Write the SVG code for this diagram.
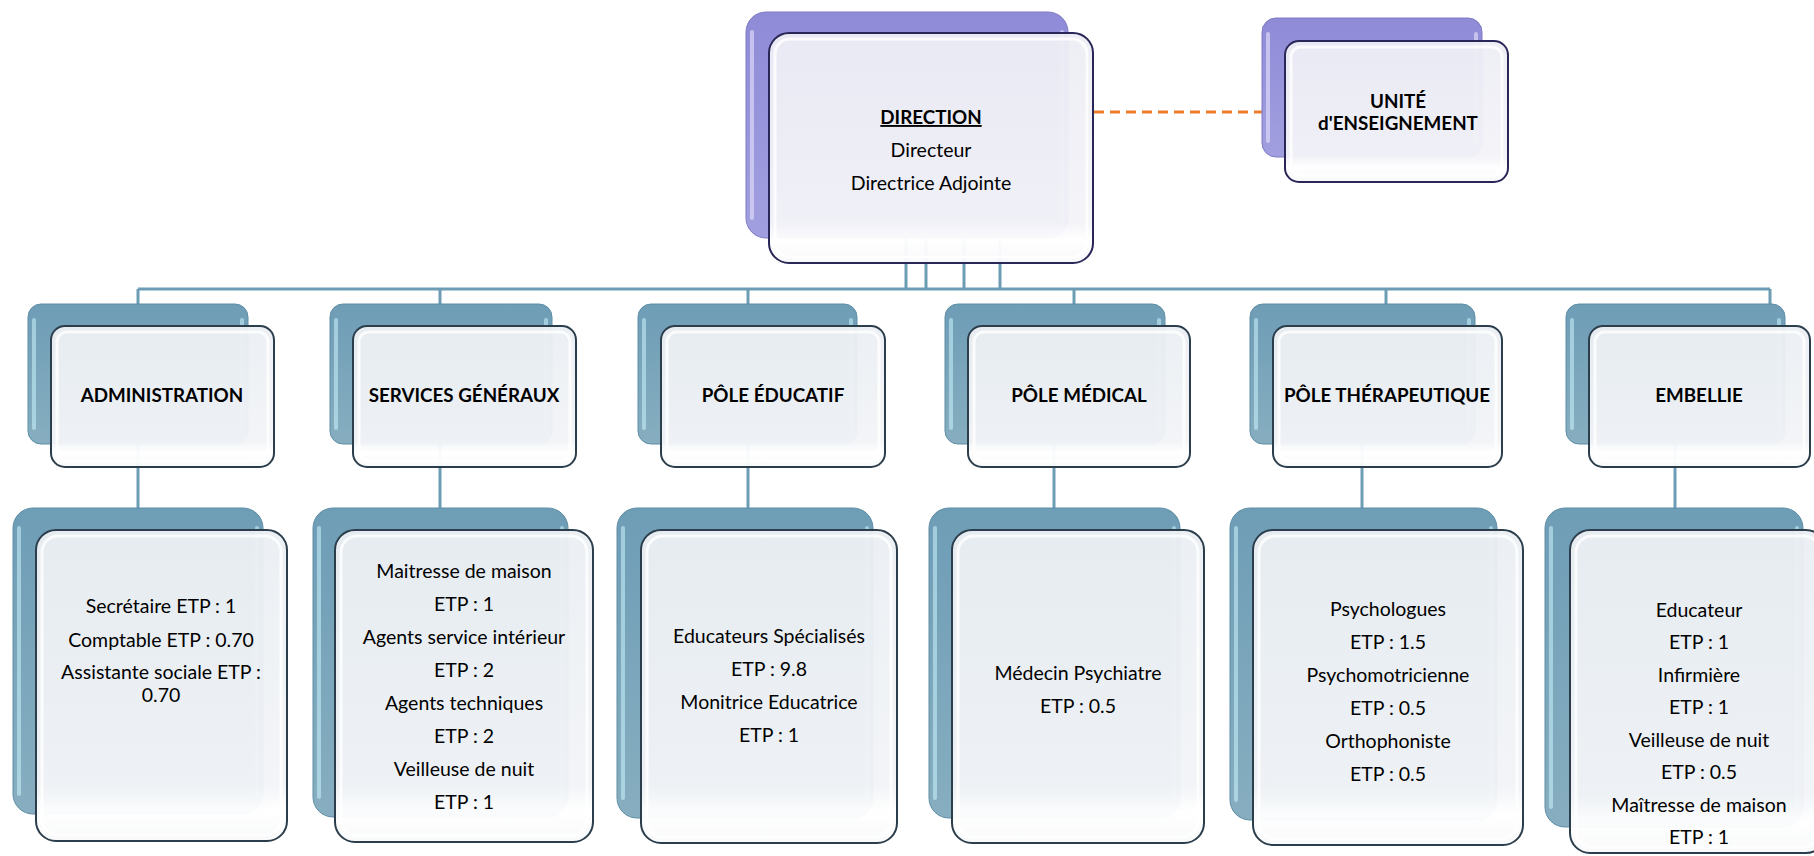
<svg xmlns="http://www.w3.org/2000/svg" width="1814" height="856" viewBox="0 0 1814 856">
<defs>
<linearGradient id="gb" x1="0" y1="0" x2="0" y2="1"><stop offset="0" stop-color="#6e9db6"/><stop offset="1" stop-color="#87aec0"/></linearGradient>
<linearGradient id="gp" x1="0" y1="0" x2="0" y2="1"><stop offset="0" stop-color="#8f8bd7"/><stop offset="1" stop-color="#a29fe0"/></linearGradient>
<linearGradient id="gf" x1="0" y1="0" x2="0" y2="1"><stop offset="0" stop-color="#ebeff3"/><stop offset="0.82" stop-color="#f2f4f7"/><stop offset="0.9" stop-color="#ffffff"/><stop offset="1" stop-color="#f8f9fa"/></linearGradient>
<linearGradient id="gfp" x1="0" y1="0" x2="0" y2="1"><stop offset="0" stop-color="#ededf5"/><stop offset="0.82" stop-color="#f3f3f8"/><stop offset="0.9" stop-color="#ffffff"/><stop offset="1" stop-color="#f8f8fb"/></linearGradient>
<style>
.bb{fill:url(#gb);stroke:#5f8ea5;stroke-width:1}
.bp{fill:url(#gp);stroke:#7f7bc4;stroke-width:1}
.hb{fill:none;stroke:#c4ecf6;stroke-width:4;stroke-opacity:.6;stroke-linecap:round}
.hp{fill:none;stroke:#dcdaf8;stroke-width:4;stroke-opacity:.7;stroke-linecap:round}
.fb{fill:url(#gf);fill-opacity:.96;stroke:#2c3e4c;stroke-width:2}
.fp{fill:url(#gfp);fill-opacity:.96;stroke:#2a2758;stroke-width:2}
.hi{fill:none;stroke:#ffffff;stroke-width:3;stroke-opacity:.8}
.t{font-family:Lato,"Liberation Sans",sans-serif;font-size:19.5px;fill:#000;text-anchor:middle}
.tb{font-weight:bold;font-size:18.8px}
.c{stroke:#6c9db5;stroke-width:3;fill:none}
.d{stroke:#ed7d31;stroke-width:3;fill:none;stroke-dasharray:10 6}
</style>
</defs>
<rect width="1814" height="856" fill="#ffffff"/>
<g id="connectors">
<path class="c" d="M138 289H1770"/>
<path class="c" d="M906 237V289M926 237V289M964 237V289M1000 237V289"/>
<path class="c" d="M138 289V304M440 289V304M748 289V304M1074 289V304M1386 289V304M1770 289V304"/>
<path class="c" d="M138 444V508M440 444V508M748 444V508M1054 444V508M1362 444V508M1675 444V508"/>
<path class="d" d="M1094 112H1262"/>
</g>
<g id="direction">
<rect class="bp" x="746" y="12" width="322" height="226" rx="20"/>
<path class="hp" d="M752 32V218M1062 32V218"/>
<rect class="fp" x="769" y="33" width="324" height="230" rx="20"/>
<rect class="hi" x="775" y="39" width="312" height="218" rx="15"/>
<text class="t tb" x="931" y="124" text-decoration="underline">DIRECTION</text>
<text class="t" x="931" y="157">Directeur</text>
<text class="t" x="931" y="190">Directrice Adjointe</text>
</g>
<g id="unite">
<rect class="bp" x="1262" y="18" width="220" height="139" rx="14"/>
<path class="hp" d="M1268 34V141M1476 34V141"/>
<rect class="fp" x="1285" y="41" width="223" height="141" rx="14"/>
<rect class="hi" x="1291" y="47" width="211" height="129" rx="10"/>
<text class="t tb" x="1398" y="108">UNITÉ</text>
<text class="t tb" x="1398" y="130">d'ENSEIGNEMENT</text>
</g>
<g id="administration">
<rect class="bb" x="28" y="304" width="220" height="140" rx="13"/>
<path class="hb" d="M34 320V428M242 320V428"/>
<rect class="fb" x="51" y="326" width="223" height="141" rx="14"/>
<rect class="hi" x="57" y="332" width="211" height="129" rx="10"/>
<text class="t tb" x="162" y="402">ADMINISTRATION</text>
</g>
<g id="services">
<rect class="bb" x="330" y="304" width="222" height="140" rx="13"/>
<path class="hb" d="M336 320V428M546 320V428"/>
<rect class="fb" x="353" y="326" width="223" height="141" rx="14"/>
<rect class="hi" x="359" y="332" width="211" height="129" rx="10"/>
<text class="t tb" x="464" y="402">SERVICES GÉNÉRAUX</text>
</g>
<g id="educatif">
<rect class="bb" x="638" y="304" width="219" height="140" rx="13"/>
<path class="hb" d="M644 320V428M851 320V428"/>
<rect class="fb" x="661" y="326" width="224" height="141" rx="14"/>
<rect class="hi" x="667" y="332" width="212" height="129" rx="10"/>
<text class="t tb" x="773" y="402">PÔLE ÉDUCATIF</text>
</g>
<g id="medical">
<rect class="bb" x="945" y="304" width="220" height="140" rx="13"/>
<path class="hb" d="M951 320V428M1159 320V428"/>
<rect class="fb" x="968" y="326" width="222" height="141" rx="14"/>
<rect class="hi" x="974" y="332" width="210" height="129" rx="10"/>
<text class="t tb" x="1079" y="402">PÔLE MÉDICAL</text>
</g>
<g id="therapeutique">
<rect class="bb" x="1250" y="304" width="225" height="140" rx="13"/>
<path class="hb" d="M1256 320V428M1469 320V428"/>
<rect class="fb" x="1273" y="326" width="229" height="141" rx="14"/>
<rect class="hi" x="1279" y="332" width="217" height="129" rx="10"/>
<text class="t tb" x="1387" y="402">PÔLE THÉRAPEUTIQUE</text>
</g>
<g id="embellie">
<rect class="bb" x="1566" y="304" width="219" height="140" rx="13"/>
<path class="hb" d="M1572 320V428M1779 320V428"/>
<rect class="fb" x="1589" y="326" width="221" height="141" rx="14"/>
<rect class="hi" x="1595" y="332" width="209" height="129" rx="10"/>
<text class="t tb" x="1699" y="402">EMBELLIE</text>
</g>
<g id="administration-staff">
<rect class="bb" x="13" y="508" width="250" height="306" rx="20"/>
<path class="hb" d="M19 528V794M257 528V794"/>
<rect class="fb" x="36" y="530" width="251" height="311" rx="20"/>
<rect class="hi" x="42" y="536" width="239" height="299" rx="16"/>
<text class="t" x="161" y="613">Secrétaire ETP : 1</text>
<text class="t" x="161" y="647">Comptable ETP : 0.70</text>
<text class="t" x="161" y="679">Assistante sociale ETP :</text>
<text class="t" x="161" y="702">0.70</text>
</g>
<g id="services-staff">
<rect class="bb" x="313" y="508" width="255" height="309" rx="20"/>
<path class="hb" d="M319 528V797M562 528V797"/>
<rect class="fb" x="335" y="530" width="258" height="312" rx="20"/>
<rect class="hi" x="341" y="536" width="246" height="300" rx="16"/>
<text class="t" x="464" y="578">Maitresse de maison</text>
<text class="t" x="464" y="611">ETP : 1</text>
<text class="t" x="464" y="644">Agents service intérieur</text>
<text class="t" x="464" y="677">ETP : 2</text>
<text class="t" x="464" y="710">Agents techniques</text>
<text class="t" x="464" y="743">ETP : 2</text>
<text class="t" x="464" y="776">Veilleuse de nuit</text>
<text class="t" x="464" y="809">ETP : 1</text>
</g>
<g id="educatif-staff">
<rect class="bb" x="617" y="508" width="256" height="310" rx="20"/>
<path class="hb" d="M623 528V798M867 528V798"/>
<rect class="fb" x="641" y="530" width="256" height="313" rx="20"/>
<rect class="hi" x="647" y="536" width="244" height="301" rx="16"/>
<text class="t" x="769" y="643">Educateurs Spécialisés</text>
<text class="t" x="769" y="676">ETP : 9.8</text>
<text class="t" x="769" y="709">Monitrice Educatrice</text>
<text class="t" x="769" y="742">ETP : 1</text>
</g>
<g id="medical-staff">
<rect class="bb" x="929" y="508" width="251" height="310" rx="20"/>
<path class="hb" d="M935 528V798M1174 528V798"/>
<rect class="fb" x="952" y="530" width="252" height="313" rx="20"/>
<rect class="hi" x="958" y="536" width="240" height="301" rx="16"/>
<text class="t" x="1078" y="680">Médecin Psychiatre</text>
<text class="t" x="1078" y="713">ETP : 0.5</text>
</g>
<g id="therapeutique-staff">
<rect class="bb" x="1230" y="508" width="267" height="312" rx="20"/>
<path class="hb" d="M1236 528V800M1491 528V800"/>
<rect class="fb" x="1253" y="530" width="270" height="315" rx="20"/>
<rect class="hi" x="1259" y="536" width="258" height="303" rx="16"/>
<text class="t" x="1388" y="616">Psychologues</text>
<text class="t" x="1388" y="649">ETP : 1.5</text>
<text class="t" x="1388" y="682">Psychomotricienne</text>
<text class="t" x="1388" y="715">ETP : 0.5</text>
<text class="t" x="1388" y="748">Orthophoniste</text>
<text class="t" x="1388" y="781">ETP : 0.5</text>
</g>
<g id="embellie-staff">
<rect class="bb" x="1545" y="508" width="258" height="319" rx="20"/>
<path class="hb" d="M1551 528V807M1797 528V807"/>
<rect class="fb" x="1570" y="530" width="256" height="323" rx="20"/>
<rect class="hi" x="1576" y="536" width="244" height="311" rx="16"/>
<text class="t" x="1699" y="617">Educateur</text>
<text class="t" x="1699" y="649">ETP : 1</text>
<text class="t" x="1699" y="682">Infirmière</text>
<text class="t" x="1699" y="714">ETP : 1</text>
<text class="t" x="1699" y="747">Veilleuse de nuit</text>
<text class="t" x="1699" y="779">ETP : 0.5</text>
<text class="t" x="1699" y="812">Maîtresse de maison</text>
<text class="t" x="1699" y="844">ETP : 1</text>
</g>
</svg>
